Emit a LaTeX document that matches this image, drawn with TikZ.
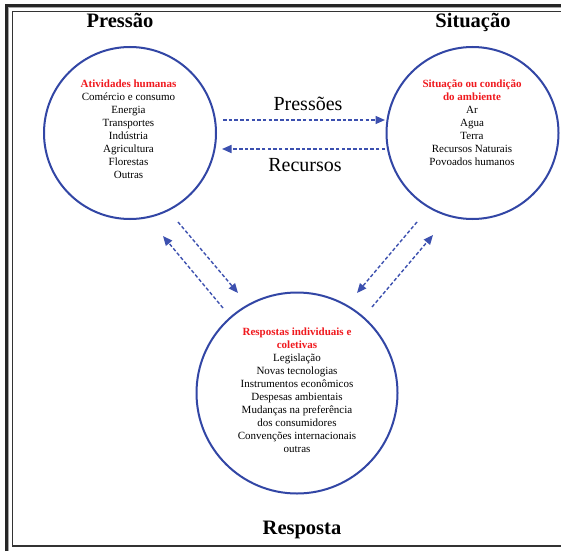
\documentclass[tikz,border=0pt]{standalone}
\usepackage{fontspec}
\setmainfont{Liberation Serif}
\usetikzlibrary{arrows.meta}
\definecolor{cblue}{RGB}{50,70,165}
\definecolor{dblue}{RGB}{60,80,175}
\definecolor{tred}{RGB}{240,25,30}
\tikzset{
  circ/.style={circle, draw=cblue, line width=2pt, inner sep=0pt},
  flow/.style={draw=dblue, line width=1.4pt, dash pattern=on 3.5pt off 2.2pt,
    -{Triangle[length=9.5pt,width=8pt]}, shorten >=0pt},
  title/.style={font=\fontsize{20.5}{24}\selectfont\bfseries, inner sep=0pt, anchor=base},
  biglabel/.style={font=\fontsize{20}{24}\selectfont, inner sep=0pt, anchor=base},
  body/.style={font=\fontsize{11}{13}\selectfont, align=center, inner sep=0pt},
  hd/.style={text=tred, font=\fontsize{11}{13}\selectfont\bfseries}
}
\begin{document}
\begin{tikzpicture}[x=1pt,y=-1pt]
\useasboundingbox (0,0) rectangle (561,551);
\fill[white] (0,0) rectangle (561,551);
% frame
\draw[black!85, line width=2.6pt] (6.5,551) -- (6.5,5.5) -- (561,5.5);
\draw[black!35, line width=1.2pt] (8.8,551) -- (8.8,7.8) -- (561,7.8);
\draw[black!80, line width=1.1pt] (561,11.8) -- (12.8,11.8) -- (12.8,546) -- (561,546);
% circles
\node[circ, minimum size=172pt] (P) at (130,133) {};
\node[circ, minimum size=172pt] (S) at (472.5,133) {};
\node[circ, minimum size=201pt] (R) at (297,393) {};
% titles
\node[title] (tP) at (120,28) {Pressão};
\node[title] (tS) at (473,28) {Situação};
\node[title] (tR) at (302,534) {Resposta};
% circle texts
\node[body] (xP) at (128.5,129) {{\color{tred}\bfseries Atividades humanas}\\Comércio e consumo\\Energia\\Transportes\\Indústria\\Agricultura\\Florestas\\Outras};
\node[body] (xS) at (472,122.5) {{\color{tred}\bfseries Situação ou condição}\\{\color{tred}\bfseries do ambiente}\\Ar\\Agua\\Terra\\Recursos Naturais\\Povoados humanos};
\node[body] (xR) at (297,390) {{\color{tred}\bfseries Respostas individuais e}\\{\color{tred}\bfseries coletivas}\\Legislação\\Novas tecnologias\\Instrumentos econômicos\\Despesas ambientais\\Mudanças na preferência\\dos consumidores\\Convenções internacionais\\outras};
% arrow labels
\node[biglabel] (lP) at (308,110.5) {Pressões};
\node[biglabel] (lR) at (305,171.5) {Recursos};
% arrow end points
\coordinate (h1a) at (223,120);
\coordinate (h1b) at (385,120);
\coordinate (h2a) at (385,149);
\coordinate (h2b) at (222,149);
\coordinate (d1a) at (178,222);
\coordinate (d1b) at (238,293);
\coordinate (d2a) at (223,308);
\coordinate (d2b) at (163,236);
\coordinate (d3a) at (417,222);
\coordinate (d3b) at (357,293);
\coordinate (d4a) at (372,307);
\coordinate (d4b) at (433,235);
\draw[flow] (h1a) -- (h1b);
\draw[flow] (h2a) -- (h2b);
\draw[flow] (d1a) -- (d1b);
\draw[flow] (d2a) -- (d2b);
\draw[flow] (d3a) -- (d3b);
\draw[flow] (d4a) -- (d4b);
\end{tikzpicture}
\end{document}
